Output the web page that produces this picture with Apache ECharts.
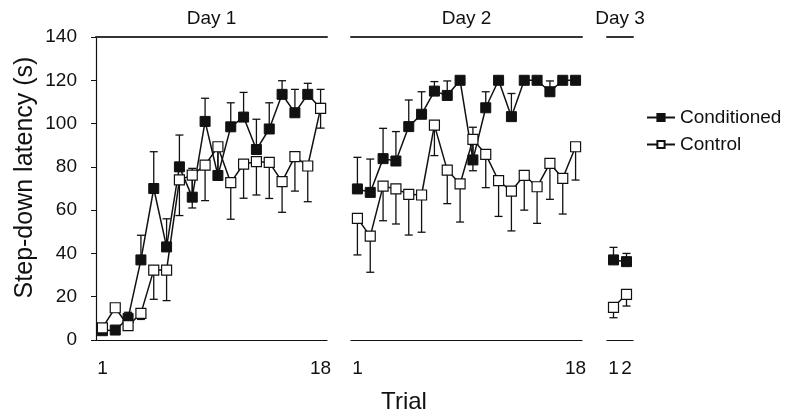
<!DOCTYPE html>
<html>
<head>
<meta charset="utf-8">
<script src="https://cdn.jsdelivr.net/npm/echarts@6/dist/echarts.min.js"></script>
<style>
  html, body { margin: 0; padding: 0; background: #fff; }
  #main { width: 787px; height: 415px; }
</style>
</head>
<body>
<div id="main"></div>
<script>
// trials per day
const trialsDay1 = ["1", "2", "3", "4", "5", "6", "7", "8", "9", "10", "11", "12", "13", "14", "15", "16", "17", "18"]
const trialsDay2 = ["1", "2", "3", "4", "5", "6", "7", "8", "9", "10", "11", "12", "13", "14", "15", "16", "17", "18"]
const trialsDay3 = ["1", "2"]

// Conditioned: mean and top of error bar
const conditionedDay1 = [4.3, 4.6, 10, 37, 70, 43, 80, 66, 101, 76, 98.5, 103, 88, 97.5, 113.5, 105, 113.5, 107]
const conditionedDay1Up = [6, 5.5, 12.8, 48.4, 87, 56, 94.7, 79.3, 111.7, 89, 109.6, 114.4, 102, 109.6, 119.8, 115.8, 118.6, 115.8]
const conditionedDay2 = [69.8, 68.2, 83.8, 82.7, 98.6, 104.3, 115, 113, 120, 83.2, 107.3, 120, 103.2, 120, 120, 114.7, 120, 120]
const conditionedDay2Up = [84.4, 83.6, 97.8, 96.3, 110.9, 114.7, 119.4, 119.7, 120, 98.3, 114.7, 120, 113.9, 120, 120, 119.7, 120, 120]
const conditionedDay3 = [37, 36.2]
const conditionedDay3Up = [42.8, 40]

// Control: mean and bottom of error bar
const controlDay1 = [5.6, 14.9, 6.6, 12.3, 32.3, 32.3, 74, 76.2, 80.8, 89.3, 72.7, 81.3, 82.4, 82.1, 73.2, 84.7, 80.4, 107]
const controlDay1Down = [5.6, 14.9, 6.6, 9.5, 18.8, 18.2, 57.5, 61, 64.4, 76, 55.8, 65.5, 67, 65.4, 59, 68.8, 63.9, 97.9]
const controlDay2 = [56.2, 48, 71.1, 69.8, 67.3, 67, 99.3, 78.5, 72.1, 92.7, 85.8, 73.6, 68.8, 76.1, 70.8, 81.6, 74.7, 89.3]
const controlDay2Down = [39.3, 31.3, 55.1, 53.6, 48.5, 49.8, 85.2, 63, 54.5, 78.2, 70.4, 57.1, 50.4, 60, 53.9, 65, 58.2, 73.9]
const controlDay3 = [15.1, 21.1]
const controlDay3Down = [10.3, 15.7]

const dayNames = ["Day 1", "Day 2", "Day 3"]

const FONT = "Liberation Sans, Arial, sans-serif"
const INK = "#111"

const grids = [
  { left: 96, top: 37, width: 231, height: 303 },
  { left: 351, top: 37, width: 231, height: 303 },
  { left: 607, top: 37, width: 26, height: 303 }
]
const trialSets = [trialsDay1, trialsDay2, trialsDay3]
const conditioned = [conditionedDay1, conditionedDay2, conditionedDay3]
const conditionedUp = [conditionedDay1Up, conditionedDay2Up, conditionedDay3Up]
const control = [controlDay1, controlDay2, controlDay3]
const controlDown = [controlDay1Down, controlDay2Down, controlDay3Down]

function errorBars(means, bounds) {
  return means.map((m, i) => [i, m, bounds[i]])
}

function renderErr(params, api) {
  const x = api.value(0)
  const p1 = api.coord([x, api.value(1)])
  const p2 = api.coord([x, api.value(2)])
  const style = { stroke: INK, lineWidth: 1.3 }
  if (Math.abs(p1[1] - p2[1]) < 1) return null
  return {
    type: "group",
    children: [
      { type: "line", shape: { x1: p1[0], y1: p1[1], x2: p2[0], y2: p2[1] }, style },
      { type: "line", shape: { x1: p2[0] - 4, y1: p2[1], x2: p2[0] + 4, y2: p2[1] }, style }
    ]
  }
}

const xAxis = []
const yAxis = []
const series = []

grids.forEach((g, k) => {
  const last = trialSets[k].length - 1
  xAxis.push({
    type: "category",
    gridIndex: k,
    data: trialSets[k],
    position: "bottom",
    axisLine: { lineStyle: { color: INK, width: 1.2 } },
    axisTick: { interval: 0, length: 5, lineStyle: { color: INK } },
    axisLabel: {
      interval: 0,
      formatter: (v, i) => (i === 0 || i === last ? v : ""),
      color: INK,
      fontSize: 19,
      fontFamily: FONT,
      margin: 19
    }
  })
  yAxis.push({
    type: "value",
    gridIndex: k,
    min: 0,
    max: 140,
    interval: 20,
    show: k === 0,
    name: k === 0 ? "Step-down latency (s)" : "",
    nameLocation: "middle",
    nameGap: 58,
    nameTextStyle: { fontSize: 25, color: INK, fontFamily: FONT, padding: [0, 0, 0, 22] },
    axisLine: { show: true, lineStyle: { color: INK, width: 1.2 } },
    axisTick: { show: true, length: 5, lineStyle: { color: INK } },
    axisLabel: { color: INK, fontSize: 19, fontFamily: FONT, margin: 19 },
    splitLine: { show: false }
  })
})

// top bracket line with day label
grids.forEach((g, k) => {
  xAxis.push({
    type: "category",
    gridIndex: k,
    data: trialSets[k],
    position: "top",
    name: dayNames[k],
    nameLocation: "middle",
    nameGap: 9,
    nameTextStyle: { fontSize: 19, color: INK, fontFamily: FONT },
    axisLine: { lineStyle: { color: "#333", width: 2 } },
    axisTick: { show: false },
    axisLabel: { show: false }
  })
})

grids.forEach((g, k) => {
  series.push({
    type: "custom",
    name: "errCond" + k,
    xAxisIndex: k,
    yAxisIndex: k,
    data: errorBars(conditioned[k], conditionedUp[k]),
    encode: { x: 0, y: 1 },
    renderItem: renderErr,
    z: 1,
    silent: true
  })
  series.push({
    type: "custom",
    name: "errCtrl" + k,
    xAxisIndex: k,
    yAxisIndex: k,
    data: errorBars(control[k], controlDown[k]),
    encode: { x: 0, y: 1 },
    renderItem: renderErr,
    z: 1,
    silent: true
  })
  series.push({
    type: "line",
    name: "Conditioned",
    xAxisIndex: k,
    yAxisIndex: k,
    data: conditioned[k],
    symbol: "rect",
    symbolSize: 10,
    showAllSymbol: true,
    lineStyle: { color: INK, width: 1.5 },
    itemStyle: { color: INK, borderColor: INK, borderWidth: 1 },
    z: 3,
    animation: false
  })
  series.push({
    type: "line",
    name: "Control",
    xAxisIndex: k,
    yAxisIndex: k,
    data: control[k],
    symbol: "rect",
    symbolSize: 10,
    showAllSymbol: true,
    lineStyle: { color: INK, width: 1.5 },
    itemStyle: { color: "#fff", borderColor: INK, borderWidth: 1.2 },
    z: 4,
    animation: false
  })
})

const myChart = echarts.init(document.getElementById("main"))
myChart.setOption({
  animation: false,
  backgroundColor: "#fff",
  title: {
    text: "Trial",
    left: 399,
    top: 385,
    textAlign: "center",
    textStyle: { fontSize: 24, fontWeight: "normal", color: INK, fontFamily: FONT }
  },
  legend: {
    data: ["Conditioned", "Control"],
    orient: "vertical",
    left: 641,
    top: 103,
    itemWidth: 28,
    itemHeight: 9,
    itemGap: 8,
    textStyle: { fontSize: 19, color: INK, fontFamily: FONT }
  },
  grid: grids,
  xAxis: xAxis,
  yAxis: yAxis,
  series: series
})
</script>
</body>
</html>
